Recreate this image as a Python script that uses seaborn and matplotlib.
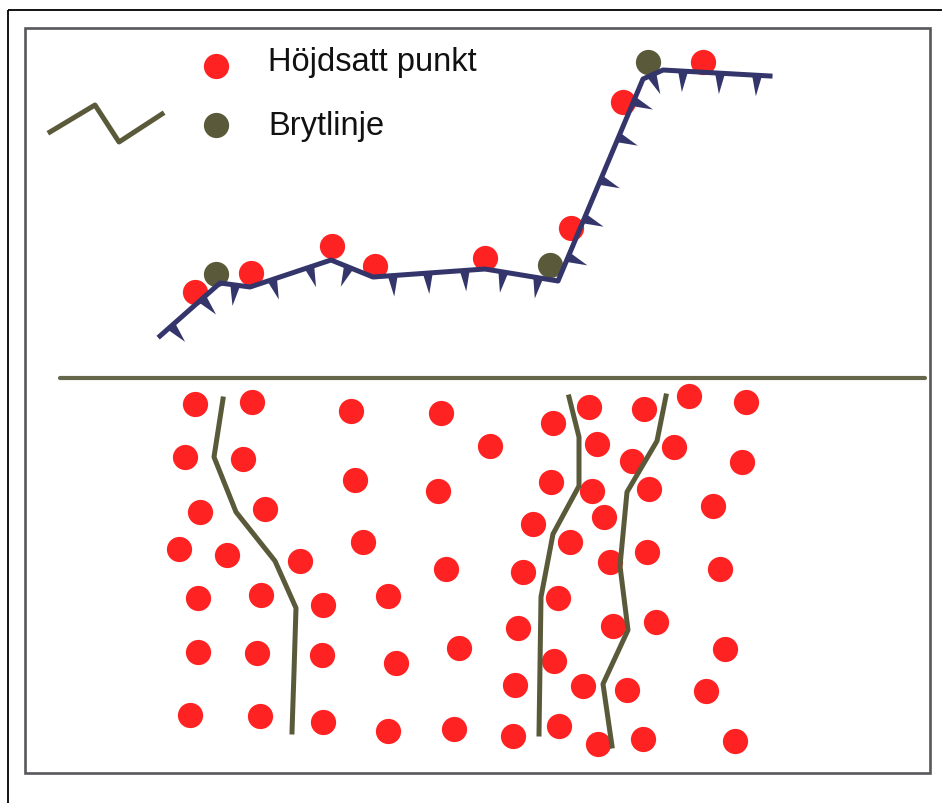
import numpy as np
import pandas as pd
import seaborn as sns
import matplotlib.pyplot as plt
from matplotlib.patches import Rectangle

# Colours
RED = '#ff2222'
OLIVE = '#5a5a3a'
NAVY = '#34356a'

# Legend
legend_labels = ['Höjdsatt punkt', 'Brytlinje']
legend_text_y = [62, 127]
legend_dot_x = [216, 216]
legend_dot_y = [67, 126]
legend_line_x = [50, 95, 119, 162]
legend_line_y = [133, 106, 143, 115]

# Profile (top part)
profile_x = [160, 220, 250, 331, 373, 485, 558, 643, 663, 770]
profile_y = [337, 284, 288, 261, 278, 270, 282, 80, 71, 77]
profile_red_x = [195, 251, 332, 375, 485, 571, 623, 703]
profile_red_y = [293, 274, 247, 267, 259, 229, 103, 63]
profile_brk_x = [216, 550, 648]
profile_brk_y = [275, 266, 63]
barb_x = [172, 205, 235, 273, 310, 348, 393, 428, 465, 503, 538,
          577, 590, 605, 622, 635, 653, 683, 720, 757]
barb_y = [328, 303, 288, 283, 270, 270, 280, 277, 275, 275, 280,
          262, 222, 183, 140, 103, 79, 73, 75, 77]

# Plan view (bottom part)
plan_x = [195, 252, 351, 185, 243, 355, 200, 265, 363, 179, 227, 300, 198, 261, 323,
          198, 257, 322, 190, 260, 323,
          441, 490, 553, 438, 551, 533, 446, 523, 388, 558, 518, 459, 396, 554, 515,
          388, 454, 513, 559,
          589, 644, 689, 746, 597, 632, 674, 742, 592, 649, 713, 604, 570, 610, 647,
          720, 613, 656, 725, 583, 627, 706, 598, 643, 735]
plan_y = [405, 403, 412, 458, 460, 481, 513, 510, 543, 550, 556, 562, 599, 596, 606,
          653, 654, 656, 716, 717, 723,
          414, 447, 424, 492, 483, 525, 570, 573, 597, 599, 629, 649, 664, 662, 686,
          732, 730, 737, 727,
          408, 410, 397, 403, 445, 462, 448, 463, 492, 490, 507, 518, 543, 563, 553,
          570, 627, 623, 650, 687, 691, 692, 745, 740, 742]
brk1_x = [223, 214, 236, 275, 296, 294, 292]
brk1_y = [400, 458, 513, 562, 609, 673, 733]
brk2_x = [569, 579, 579, 553, 541, 539]
brk2_y = [398, 438, 487, 535, 598, 735]
brk3_x = [666, 657, 627, 620, 628, 603, 612]
brk3_y = [397, 442, 493, 567, 631, 685, 747]

fig = plt.figure(figsize=(9.42, 8.04), dpi=100)
ax = fig.add_axes([0, 0, 1, 1])
ax.set_xlim(0, 942)
ax.set_ylim(804, 0)
ax.axis('off')

# frames and separator
ax.add_patch(Rectangle((8, 11), 1000, 900, fill=False, edgecolor='black', lw=1.3))
ax.add_patch(Rectangle((25, 29), 905, 745, fill=False, edgecolor='#58585c', lw=1.9))
ax.plot([60, 925], [379, 379], color='#66664a', lw=3, solid_capstyle='round')


def dots(x, y, color):
    sns.scatterplot(x=x, y=y, color=color, s=330, linewidth=0, ax=ax, zorder=3)


def poly(x, y, color, lw=3.6):
    df = pd.DataFrame({'x': x, 'y': y})
    sns.lineplot(data=df, x='x', y='y', sort=False, estimator=None, color=color,
                 lw=lw, ax=ax, zorder=4, legend=False)


# legend
dots(legend_dot_x[:1], legend_dot_y[:1], RED)
dots(legend_dot_x[1:], legend_dot_y[1:], OLIVE)
poly(legend_line_x, legend_line_y, OLIVE)
for lab, yy in zip(legend_labels, legend_text_y):
    ax.text(268, yy, lab, fontsize=23.5, family='Liberation Sans',
            color='#111111', va='center', ha='left')

# profile
dots(profile_red_x, profile_red_y, RED)
dots(profile_brk_x, profile_brk_y, OLIVE)
poly(profile_x, profile_y, NAVY)

# barbs perpendicular to the profile, on the downhill side
px = np.array(profile_x, float)
py = np.array(profile_y, float)
for bx, by in zip(barb_x, barb_y):
    best = None
    for i in range(len(px) - 1):
        d = np.array([px[i + 1] - px[i], py[i + 1] - py[i]])
        L = np.hypot(*d)
        t = np.clip(((bx - px[i]) * d[0] + (by - py[i]) * d[1]) / L ** 2, 0, 1)
        q = np.array([px[i], py[i]]) + t * d
        dist = np.hypot(bx - q[0], by - q[1])
        if best is None or dist < best[0]:
            best = (dist, q, d / L)
    _, q, u = best
    n = np.array([-u[1], u[0]])
    tip = q + 21 * n
    a = q - 5 * u
    b = q + 5 * u
    ax.fill([a[0], b[0], tip[0]], [a[1], b[1], tip[1]], color=NAVY, lw=0, zorder=4)

# plan view
dots(plan_x, plan_y, RED)
poly(brk1_x, brk1_y, OLIVE)
poly(brk2_x, brk2_y, OLIVE)
poly(brk3_x, brk3_y, OLIVE)

fig.savefig('out.png', dpi=100)
